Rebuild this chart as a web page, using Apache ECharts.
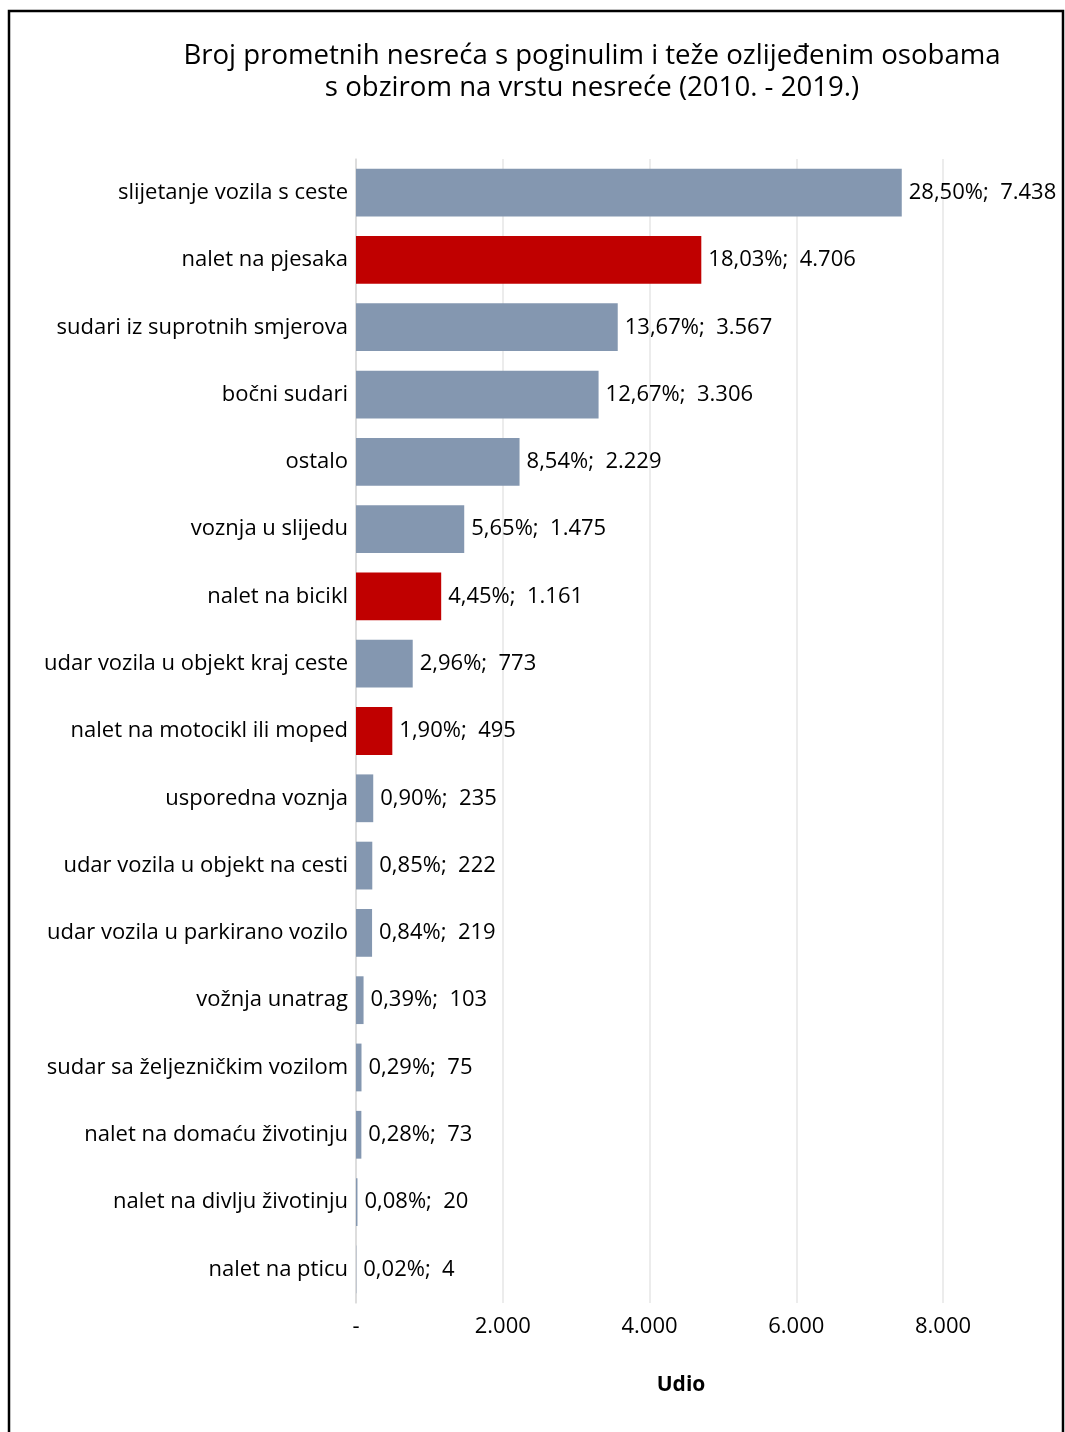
<!DOCTYPE html>
<html><head><meta charset="utf-8">
<script src="https://cdn.jsdelivr.net/npm/echarts@6/dist/echarts.min.js"></script>
<style>html,body{margin:0;padding:0;background:#fff}#c{width:1065px;height:1432px}</style>
</head><body><div id="c"></div>
<script>
const categories = ['slijetanje vozila s ceste','nalet na pjesaka','sudari iz suprotnih smjerova','bočni sudari','ostalo','voznja u slijedu','nalet na bicikl','udar vozila u objekt kraj ceste','nalet na motocikl ili moped','usporedna voznja','udar vozila u objekt na cesti','udar vozila u parkirano vozilo','vožnja unatrag','sudar sa željezničkim vozilom','nalet na domaću životinju','nalet na divlju životinju','nalet na pticu'];
const values = [7438,4706,3567,3306,2229,1475,1161,773,495,235,222,219,103,75,73,20,4];
const percents = ['28,50%','18,03%','13,67%','12,67%','8,54%','5,65%','4,45%','2,96%','1,90%','0,90%','0,85%','0,84%','0,39%','0,29%','0,28%','0,08%','0,02%'];
const highlighted = ['nalet na pjesaka','nalet na bicikl','nalet na motocikl ili moped'];
const xTicks = [0,2000,4000,6000,8000];
const titleLines = ['Broj prometnih nesreća s poginulim i teže ozlijeđenim osobama','s obzirom na vrstu nesreće (2010. - 2019.)'];
const axisName = 'Udio';

const FONT = '"Open Sans"';
const fmt = v => v === 0 ? '-' : v.toLocaleString('de-DE');
const chart = echarts.init(document.getElementById('c'));
chart.setOption({
  animation:false,
  textStyle:{fontFamily:FONT},
  graphic:[
    {type:'rect',shape:{x:9,y:11,width:1054,height:1440},style:{fill:'none',stroke:'#000',lineWidth:2.5},silent:true},
    {type:'text',x:592,y:40,style:{text:titleLines.join('\n'),font:'27.6px '+FONT,fill:'#000',textAlign:'center',lineHeight:32}},
    {type:'text',x:681,y:1385,style:{text:axisName,font:'bold 21px '+FONT,fill:'#000',textAlign:'center',textVerticalAlign:'middle'}}
  ],
  grid:{left:356,top:159,width:587,height:1144,containLabel:false},
  xAxis:{type:'value',min:0,max:8000,interval:2000,
    axisLine:{show:false},axisTick:{show:false},
    splitLine:{show:true,lineStyle:{color:'#e6e6e6',width:1.5}},
    axisLabel:{formatter:fmt,fontSize:22,color:'#000',margin:13,fontFamily:FONT}},
  yAxis:{type:'category',data:categories,inverse:true,
    axisLine:{show:true,lineStyle:{color:'#d9d9d9',width:1.5}},axisTick:{show:false},
    axisLabel:{fontSize:22,color:'#000',margin:8,fontFamily:FONT}},
  series:[{type:'bar',barCategoryGap:'29%',
    data:values.map((v,i)=>({value:v,itemStyle:{color:highlighted.includes(categories[i])?'#C00000':'#8497B0'}})),
    label:{show:true,position:'right',distance:7,fontSize:22,color:'#000',fontFamily:FONT,
      formatter:p=>percents[p.dataIndex]+';  '+fmt(values[p.dataIndex])}}]
});
</script></body></html>
